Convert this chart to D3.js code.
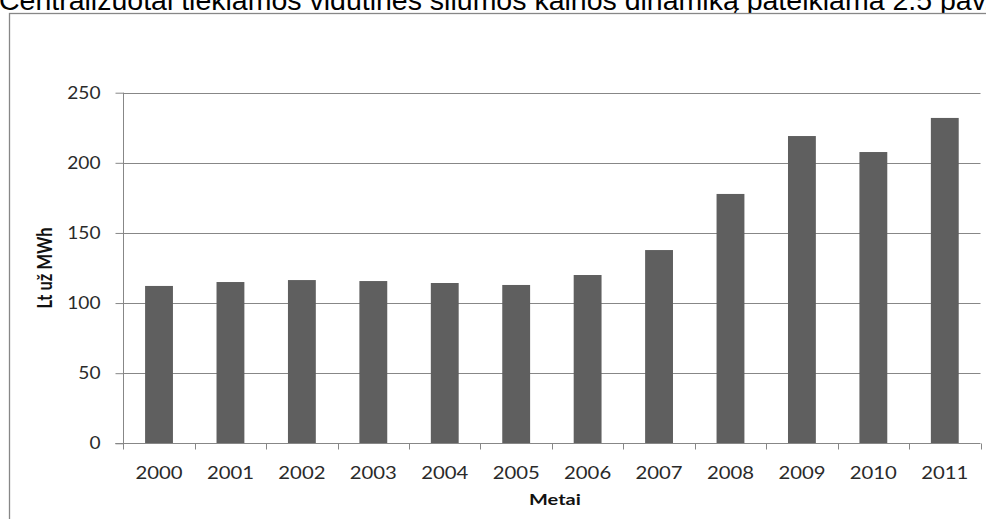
<!DOCTYPE html>
<html>
<head>
<meta charset="utf-8">
<script src="https://cdn.jsdelivr.net/npm/d3@7"></script>
<style>
  html, body { margin: 0; padding: 0; background: #fff; overflow: hidden; }
  svg { display: block; }
</style>
</head>
<body>
<svg id="chart" width="986" height="519"></svg>
<script>
// Vidutinė centralizuotai tiekiamos šilumos kaina, Lt už MWh
const years = ["2000", "2001", "2002", "2003", "2004", "2005",
               "2006", "2007", "2008", "2009", "2010", "2011"];
const prices = [112.2, 115.0, 116.4, 115.7, 114.3, 112.9,
                120.0, 137.8, 177.8, 219.1, 207.7, 232.0];
const yTicks = [0, 50, 100, 150, 200, 250];
const headingText = "Centralizuotai tiekiamos vidutinės šilumos kainos dinamiką pateikiama 2.5 pav.";
const yTitle = "Lt už MWh";
const xTitle = "Metai";

const W = 986, H = 519;
const plot = { left: 123.3, right: 980.5, top: 92.7, bottom: 443.3 };

const gridColor = "#878787";
const barColor = "#5f5f5f";
const labelFont = "Lato, 'Open Sans', sans-serif";

const svg = d3.select("#chart");

// heading line of the surrounding document, partly clipped by the top edge
svg.append("text")
  .attr("x", -1)
  .attr("y", 10)
  .attr("font-family", "'Liberation Sans', Arial, sans-serif")
  .attr("font-size", 28.5)
  .attr("fill", "#000")
  .text(headingText);

// chart frame
svg.append("rect")
  .attr("x", 9.5).attr("y", 13.5)
  .attr("width", 1100).attr("height", 700)
  .attr("fill", "#fff")
  .attr("stroke", gridColor)
  .attr("stroke-width", 1.3);

const x = d3.scaleBand()
  .domain(years)
  .range([plot.left, plot.right])
  .paddingInner(0.61)
  .paddingOuter(0.305);

const y = d3.scaleLinear()
  .domain([0, 250])
  .range([plot.bottom, plot.top]);

// horizontal gridlines
const gy = svg.append("g");
gy.selectAll("line.grid")
  .data(yTicks.filter(v => v > 0))
  .join("line")
  .attr("x1", plot.left).attr("x2", plot.right)
  .attr("y1", d => Math.round(y(d)) + 0.5).attr("y2", d => Math.round(y(d)) + 0.5)
  .attr("stroke", gridColor).attr("stroke-width", 1);

// value axis with short outward ticks
const yAxis = d3.axisLeft(y).tickValues(yTicks).tickSize(8).tickFormat("");
const yAxisG = svg.append("g")
  .attr("transform", `translate(${Math.round(plot.left) + 0.5},0)`)
  .call(yAxis);
yAxisG.selectAll("path, line").attr("stroke", gridColor).attr("stroke-width", 1);
yAxisG.select(".domain").attr("d", `M0,${y(250)}V${y(0)}`);

// y tick labels (wide face)
svg.append("g").selectAll("text")
  .data(yTicks)
  .join("text")
  .attr("transform", d => `translate(100.5,${y(d) + 6}) scale(1.16,1)`)
  .attr("text-anchor", "end")
  .attr("font-family", labelFont)
  .attr("font-size", 16.5)
  .attr("fill", "#2a2a2a")
  .text(d => d);

// bars
svg.append("g").selectAll("rect")
  .data(years.map((yr, i) => ({ yr, v: prices[i] })))
  .join("rect")
  .attr("x", d => x(d.yr))
  .attr("y", d => y(d.v))
  .attr("width", x.bandwidth())
  .attr("height", d => y(0) - y(d.v))
  .attr("fill", barColor);

// x axis line and category boundary ticks
const step = x.step();
const x0 = x(years[0]) - step * x.paddingOuter();
const bounds = d3.range(years.length + 1).map(i => x0 + i * step);
const axisY = Math.round(y(0)) + 0.5;
svg.append("line")
  .attr("x1", plot.left - 8).attr("x2", plot.right)
  .attr("y1", axisY).attr("y2", axisY)
  .attr("stroke", gridColor).attr("stroke-width", 1);
svg.append("g").selectAll("line")
  .data(bounds)
  .join("line")
  .attr("x1", d => Math.round(d) + 0.5).attr("x2", d => Math.round(d) + 0.5)
  .attr("y1", axisY).attr("y2", axisY + 6)
  .attr("stroke", gridColor).attr("stroke-width", 1);

// x tick labels
svg.append("g").selectAll("text")
  .data(years)
  .join("text")
  .attr("transform", d => `translate(${x(d) + x.bandwidth() / 2},479) scale(1.16,1)`)
  .attr("text-anchor", "middle")
  .attr("font-family", labelFont)
  .attr("font-size", 17.5)
  .attr("fill", "#2a2a2a")
  .text(d => d);

// axis titles
svg.append("text")
  .attr("transform", `translate(${(plot.left + plot.right) / 2 + 3},505) scale(1.25,1)`)
  .attr("text-anchor", "middle")
  .attr("font-family", labelFont)
  .attr("font-weight", 700)
  .attr("font-size", 16)
  .attr("fill", "#111")
  .text(xTitle);

svg.append("text")
  .attr("transform", `translate(52,${(plot.top + plot.bottom) / 2}) rotate(-90) scale(1,1.3)`)
  .attr("text-anchor", "middle")
  .attr("font-family", labelFont)
  .attr("font-weight", 700)
  .attr("font-size", 16.5)
  .attr("fill", "#111")
  .text(yTitle);
</script>
</body>
</html>
